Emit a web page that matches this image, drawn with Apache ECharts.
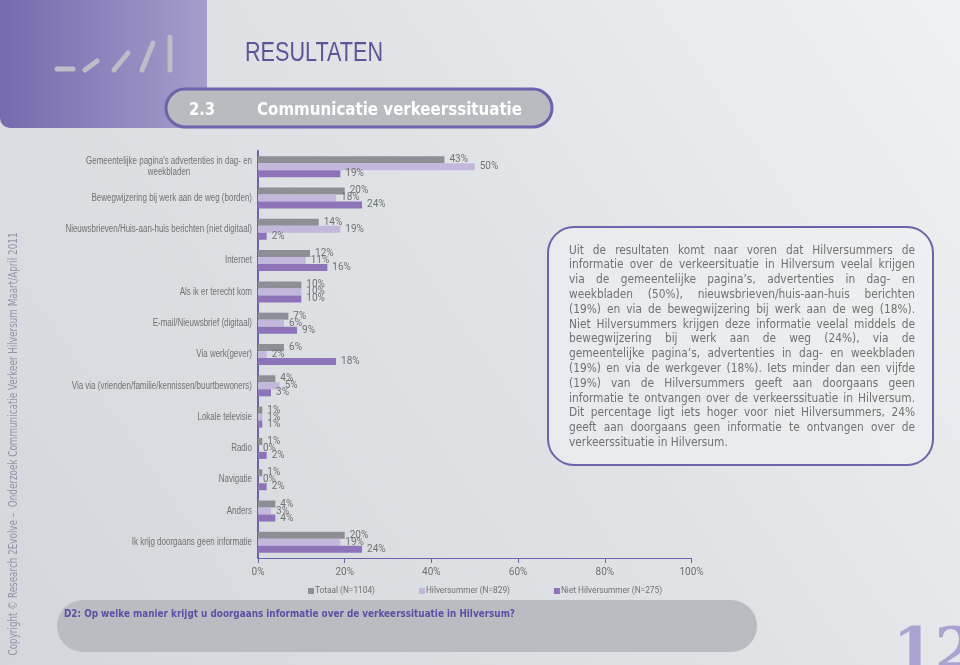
<!DOCTYPE html>
<html><head><meta charset="utf-8">
<script src="https://cdn.jsdelivr.net/npm/echarts@6/dist/echarts.min.js"></script>
<style>html,body{margin:0;padding:0;background:#e0e3e6}#c{width:960px;height:665px}</style>
</head><body><div id="c"></div>
<script>
// ---------- data ----------
const categories = [
  "Gemeentelijke pagina's advertenties in dag- en weekbladen",
  "Bewegwijzering bij werk aan de weg (borden)",
  "Nieuwsbrieven/Huis-aan-huis berichten (niet digitaal)",
  "Internet",
  "Als ik er terecht kom",
  "E-mail/Nieuwsbrief (digitaal)",
  "Via werk(gever)",
  "Via via (vrienden/familie/kennissen/buurtbewoners)",
  "Lokale televisie",
  "Radio",
  "Navigatie",
  "Anders",
  "Ik krijg doorgaans geen informatie"
];
const seriesNames = ["Totaal (N=1104)", "Hilversummer (N=829)", "Niet Hilversummer (N=275)"];
const totaal           = [43, 20, 14, 12, 10, 7, 6, 4, 1, 1, 1, 4, 20];
const hilversummer     = [50, 18, 19, 11, 10, 6, 2, 5, 1, 0, 0, 3, 19];
const nietHilversummer = [19, 24,  2, 16, 10, 9, 18, 3, 1, 2, 2, 4, 24];
const xTickValues = [0, 20, 40, 60, 80, 100];

const pageTitle = "RESULTATEN";
const sectionNumber = "2.3";
const sectionTitle = "Communicatie verkeerssituatie";
const questionText = "D2: Op welke manier krijgt u doorgaans informatie over de verkeerssituatie in Hilversum?";
const pageNumber = "12";
const sideText = "Copyright \u00A9 Research 2Evolve \u2013  Onderzoek Communicatie Verkeer Hilversum Maart/April 2011";
const paragraphLines = [
  "Uit de resultaten komt naar voren dat Hilversummers de",
  "informatie over de verkeersituatie in Hilversum veelal krijgen",
  "via de gemeentelijke pagina\u2019s, advertenties in dag- en",
  "weekbladen (50%), nieuwsbrieven/huis-aan-huis berichten",
  "(19%) en via de bewegwijzering bij werk aan de weg (18%).",
  "Niet Hilversummers krijgen deze informatie veelal middels de",
  "bewegwijzering bij werk aan de weg (24%), via de",
  "gemeentelijke pagina\u2019s, advertenties in dag- en weekbladen",
  "(19%) en via de werkgever (18%). Iets minder dan een vijfde",
  "(19%) van de Hilversummers geeft aan doorgaans geen",
  "informatie te ontvangen over de verkeerssituatie in Hilversum.",
  "Dit percentage ligt iets hoger voor niet Hilversummers, 24%",
  "geeft aan doorgaans geen informatie te ontvangen over de",
  "verkeerssituatie in Hilversum."
];

// ---------- helpers ----------
const mctx = document.createElement('canvas').getContext('2d');
function tw(text, size, family, weight) {
  mctx.font = (weight || 'normal') + ' ' + size + 'px ' + family;
  return mctx.measureText(text).width;
}
const SANS = '"Liberation Sans", Arial, sans-serif';
const ROBOTO = 'Roboto, "Liberation Sans", sans-serif';
const COND = '"DejaVu Sans Condensed", "DejaVu Sans", sans-serif';
const SERIF = '"DejaVu Serif", serif';

const colTot = '#8e8f96', colHil = '#c3b8db', colNiet = '#8d73b8';
const purple = '#6c63aa';
const textGray = '#717171';

function fitText(text, x, y, targetW, size, family, weight, fill, align) {
  const w = tw(text, size, family, weight);
  return {
    type: 'text', x: x, y: y, scaleX: targetW / w, silent: true,
    style: { text: text, fontSize: size, fontFamily: family, fontWeight: weight || 'normal',
             fill: fill, align: align || 'left', verticalAlign: 'middle' }
  };
}

const graphics = [];
// header purple block
graphics.push({ type: 'rect', shape: { x: 0, y: -20, width: 207, height: 148, r: [0, 0, 0, 10] }, silent: true,
  style: { fill: new echarts.graphic.LinearGradient(0, 0, 1, 0, [{ offset: 0, color: '#756bad' }, { offset: 1, color: '#a49dcc' }]) }, z: -5 });
// logo strokes
[[57, 69, 73, 69], [85, 70, 97, 61], [114, 70, 128, 53], [142, 70, 153, 43], [170, 37, 170, 70]].forEach(function (p) {
  graphics.push({ type: 'line', shape: { x1: p[0], y1: p[1], x2: p[2], y2: p[3] }, silent: true,
    style: { stroke: '#bdbcc8', lineWidth: 5, lineCap: 'round' }, z: -4 });
});
// title
graphics.push(fitText(pageTitle, 245, 54, 138, 27, SANS, 'normal', '#5b5597'));
// section pill
graphics.push({ type: 'rect', shape: { x: 166, y: 89, width: 386, height: 38, r: 19 }, silent: true,
  style: { fill: '#b8bcc0', stroke: purple, lineWidth: 3 }, z: -3 });
graphics.push(fitText(sectionNumber, 189, 110, 26, 18, COND, 'bold', '#ffffff'));
graphics.push(fitText(sectionTitle, 257, 110, 265, 18, COND, 'bold', '#ffffff'));
// text box
graphics.push({ type: 'rect', shape: { x: 548, y: 227, width: 385, height: 238, r: 26 }, silent: true,
  style: { fill: 'rgba(238,240,242,0.55)', stroke: purple, lineWidth: 2 }, z: -3 });
// paragraph (justified)
(function () {
  const last = paragraphLines[paragraphLines.length - 1];
  const size = 12 * 159 / tw(last, 12, COND);
  const left = 569, width = 346, top0 = 250.5, lh = 14.8;
  paragraphLines.forEach(function (line, i) {
    const y = top0 + i * lh;
    if (i === paragraphLines.length - 1) {
      graphics.push({ type: 'text', x: left, y: y, silent: true,
        style: { text: line, fontSize: size, fontFamily: COND, fill: textGray, align: 'left', verticalAlign: 'middle' } });
      return;
    }
    const words = line.split(' ');
    const ws = words.map(function (w) { return tw(w, size, COND); });
    const sum = ws.reduce(function (a, b) { return a + b; }, 0);
    let gap = (width - sum) / (words.length - 1);
    let sc = 1;
    if (gap < 2.5) { gap = 2.5; sc = (width - gap * (words.length - 1)) / sum; }
    let x = left;
    words.forEach(function (w, j) {
      graphics.push({ type: 'text', x: x, y: y, scaleX: sc, silent: true,
        style: { text: w, fontSize: size, fontFamily: COND, fill: textGray, align: 'left', verticalAlign: 'middle' } });
      x += ws[j] * sc + gap;
    });
  });
})();
// bottom question pill
graphics.push({ type: 'rect', shape: { x: 57, y: 600, width: 700, height: 52, r: 26 }, silent: true,
  style: { fill: '#b9bdc1' }, z: -3 });
graphics.push(fitText(questionText, 64, 614, 451, 11, COND, 'bold', '#5a50a4'));
// page number
graphics.push({ type: 'text', x: 893, y: 654, silent: true,
  style: { text: pageNumber, fontSize: 60, fontFamily: SERIF, fontWeight: 'bold', fill: '#aaa3d2', align: 'left', verticalAlign: 'middle' } });
// side copyright text
(function () {
  const size = 11.5;
  const w = tw(sideText, size, COND);
  graphics.push({ type: 'text', x: 14, y: 444, rotation: Math.PI / 2, scaleX: 423 / w, silent: true,
    style: { text: sideText, fontSize: size, fontFamily: COND, fill: '#9094aa', align: 'center', verticalAlign: 'middle' } });
})();

const valueFontSize = 10;
const legendFontSize = 10 * 60 / tw(seriesNames[0], 10, ROBOTO);
const labelStyle = { show: true, position: 'right', distance: 5, formatter: '{c}%', color: textGray, fontSize: valueFontSize, fontFamily: ROBOTO };

const option = {
  backgroundColor: new echarts.graphic.LinearGradient(0, 1, 1, 0, [
    { offset: 0, color: '#d3d7db' }, { offset: 0.55, color: '#e0e3e6' }, { offset: 1, color: '#eff1f2' }
  ]),
  animation: false,
  grid: { left: 258, right: 268.5, top: 151, bottom: 107, containLabel: false },
  legend: {
    data: seriesNames, left: 303, top: 582, icon: 'rect', itemWidth: 6, itemHeight: 6, itemGap: 44,
    textStyle: { color: textGray, fontSize: legendFontSize, fontFamily: ROBOTO, padding: [0, 0, 0, -4] }
  },
  xAxis: {
    type: 'value', min: 0, max: 100, interval: 20,
    axisLine: { show: true, lineStyle: { color: purple, width: 1 } },
    axisTick: { show: true, length: 5, lineStyle: { color: purple } },
    splitLine: { show: false },
    axisLabel: { formatter: function (v) { return xTickValues.indexOf(v) >= 0 ? v + '%' : ''; }, color: textGray, fontSize: 10, fontFamily: ROBOTO, margin: 9 }
  },
  yAxis: {
    type: 'category', data: categories, inverse: true,
    axisLine: { show: true, lineStyle: { color: purple, width: 2 } },
    axisTick: { show: false },
    axisLabel: { show: false }
  },
  series: [
    { name: seriesNames[0], type: 'bar', data: totaal, barWidth: 7, barGap: '0%', itemStyle: { color: colTot }, label: labelStyle },
    { name: seriesNames[1], type: 'bar', data: hilversummer, barWidth: 7, barGap: '0%', itemStyle: { color: colHil }, label: labelStyle },
    { name: seriesNames[2], type: 'bar', data: nietHilversummer, barWidth: 7, barGap: '0%', itemStyle: { color: colNiet }, label: labelStyle }
  ],
  graphic: { elements: graphics }
};
const chart = echarts.init(document.getElementById('c'), null, { renderer: 'canvas' });
chart.setOption(option);

// category labels, placed through the category axis scale (condensed like the original)
(function () {
  const catFont = 10;
  const firstLine = "Gemeentelijke pagina's advertenties in dag- en";
  const secondLine = "weekbladen";
  const sc = 166 / tw(firstLine, catFont, SANS);
  const labelEls = [];
  const xRight = chart.convertToPixel({ xAxisIndex: 0 }, 0) - 6;
  categories.forEach(function (c, i) {
    const y = chart.convertToPixel({ yAxisIndex: 0 }, c);
    const base = { type: 'text', silent: true, scaleX: sc,
      style: { fontSize: catFont, fontFamily: SANS, fill: textGray, verticalAlign: 'middle' } };
    if (i === 0) {
      labelEls.push(Object.assign({}, base, { x: xRight, y: y - 5.5, style: Object.assign({}, base.style, { text: firstLine, align: 'right' }) }));
      labelEls.push(Object.assign({}, base, { x: xRight - tw(firstLine, catFont, SANS) * sc / 2, y: y + 5.5, style: Object.assign({}, base.style, { text: secondLine, align: 'center' }) }));
    } else {
      labelEls.push(Object.assign({}, base, { x: xRight, y: y, style: Object.assign({}, base.style, { text: c, align: 'right' }) }));
    }
  });
  chart.setOption({ graphic: { elements: graphics.concat(labelEls) } });
})();
</script>
</body></html>
